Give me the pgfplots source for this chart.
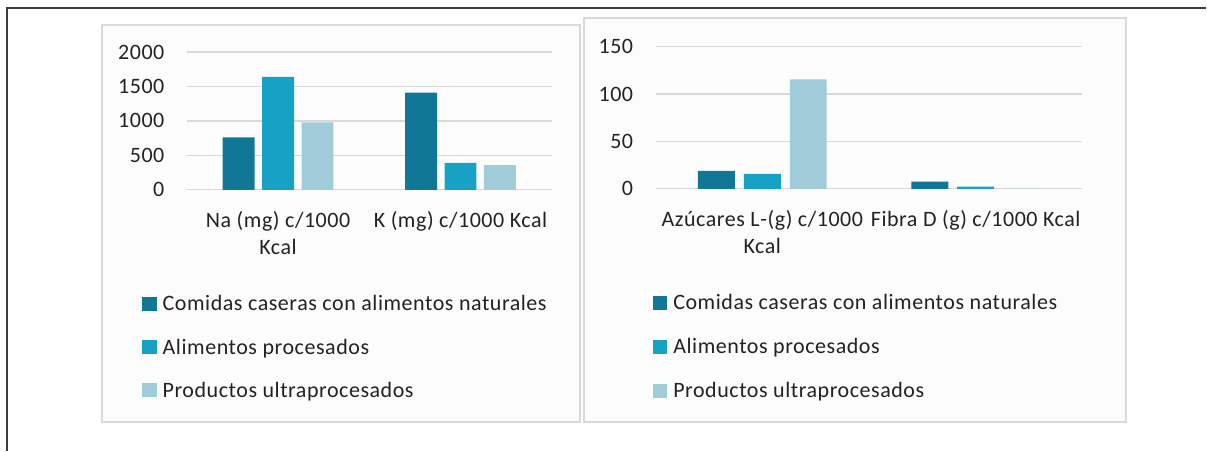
\documentclass[border=0pt]{standalone}
\usepackage{pgfplots}
\pgfplotsset{compat=1.18}
\usepackage{fontspec}
\setmainfont{Carlito}[LetterSpace=2.5]
\definecolor{cDark}{RGB}{16,120,150}
\definecolor{cMid}{RGB}{23,162,197}
\definecolor{cLight}{RGB}{160,204,217}
\definecolor{cGrid}{RGB}{217,217,217}
\definecolor{cText}{RGB}{35,35,35}
\newcommand{\lblfont}{\fontsize{22bp}{27.5bp}\selectfont}
\pgfplotsset{
  mybars/.style={
    scale only axis,
    xmin=-0.5, xmax=1.5, ymin=0,
    xtick={0,1},
    axis line style={draw=none},
    major tick length=0pt,
    ymajorgrids, grid style={cGrid, line width=1.2bp},
    /pgf/number format/assume math mode=true,
    /pgf/number format/1000 sep={},
    tick label style={font=\lblfont, text=cText},
    xticklabel style={align=center, yshift=-18bp},
    yticklabel style={xshift=-19bp},
    legend cell align=left,
    legend style={draw=none, fill=none, font=\lblfont, text=cText,
      row sep=22.5bp, inner sep=0pt, anchor=north west,
      /tikz/every odd column/.append style={column sep=4bp}},
  },
  sqleg/.style={legend image code/.code={\path[##1, draw=none] (0bp,-7bp) rectangle (14.5bp,7bp);}},
}
\begin{document}
\begin{tikzpicture}[x=1bp,y=1bp]
\path (0,0) rectangle (1207,451);
% outer frame
\draw[color={rgb,255:red,60;green,60;blue,60}, line width=1.4bp] (7,0) -- (7,443) -- (1207,443);
% panels
\draw[cGrid, line width=2bp, fill={rgb,255:red,252;green,252;blue,252}] (102,29) rectangle (580,426);
\draw[cGrid, line width=2bp, fill={rgb,255:red,252;green,252;blue,252}] (584,29) rectangle (1127,433);

\begin{axis}[mybars,
  at={(187bp,261bp)}, anchor=south west,
  width=365bp, height=138bp,
  ymax=2000, ytick={0,500,1000,1500,2000},
  ybar=7.5bp, bar width=0.175,
  sqleg,
  xticklabels={{Na (mg) c/1000\\Kcal},{K (mg) c/1000 Kcal}},
  legend style={at={(rel axis cs:-0.123,-0.75)}},
]
\addplot[fill=cDark, draw=none] coordinates {(0,760) (1,1410)};
\addplot[fill=cMid, draw=none] coordinates {(0,1640) (1,390)};
\addplot[fill=cLight, draw=none] coordinates {(0,980) (1,360)};
\legend{Comidas caseras con alimentos naturales, Alimentos procesados, Productos ultraprocesados}
\end{axis}

\begin{axis}[mybars,
  at={(656bp,262bp)}, anchor=south west,
  width=427bp, height=142.3bp,
  ymax=150, ytick={0,50,100,150},
  ybar=9bp, bar width=0.173,
  sqleg,
  legend style={row sep=23.5bp},
  xticklabels={{Azúcares L-(g) c/1000\\Kcal},{Fibra D (g) c/1000 Kcal}},
  legend style={at={(rel axis cs:-0.007,-0.725)}},
]
\addplot[fill=cDark, draw=none] coordinates {(0,19) (1,7.7)};
\addplot[fill=cMid, draw=none] coordinates {(0,15.8) (1,2.4)};
\addplot[fill=cLight, draw=none] coordinates {(0,115.5) (1,0.3)};
\legend{Comidas caseras con alimentos naturales, Alimentos procesados, Productos ultraprocesados}
\end{axis}
\end{tikzpicture}
\end{document}
